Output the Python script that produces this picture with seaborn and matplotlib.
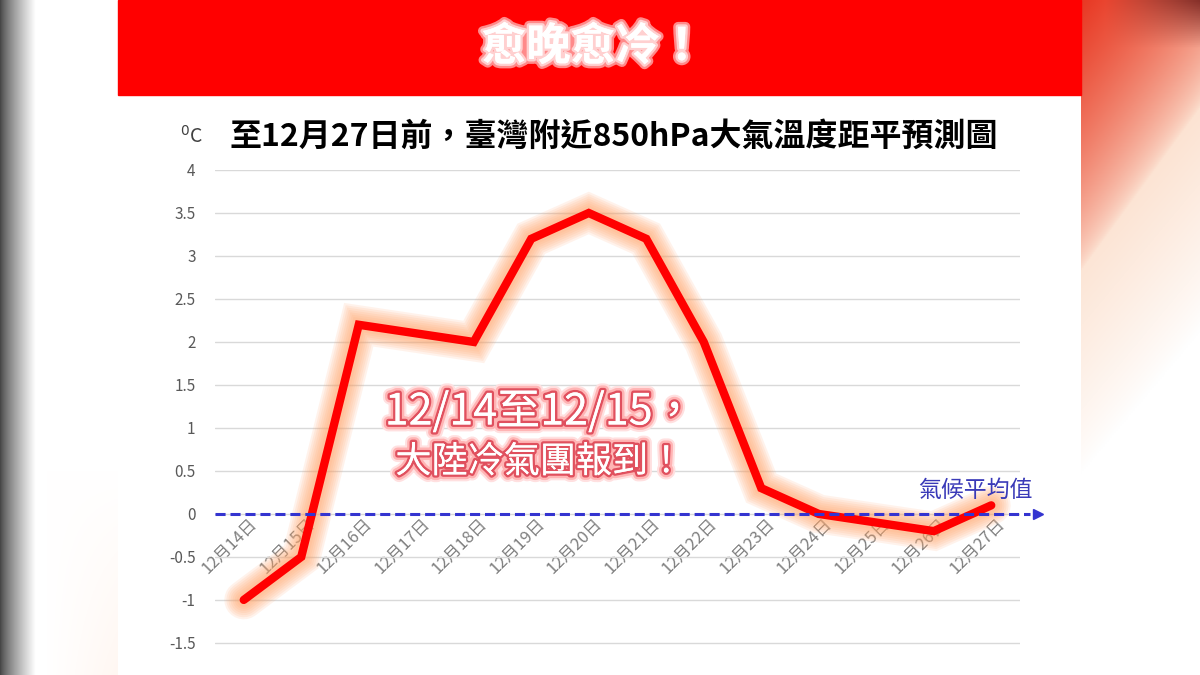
import numpy as np
import pandas as pd
import matplotlib
matplotlib.use("Agg")
import matplotlib.pyplot as plt
import matplotlib.patheffects as pe
import matplotlib.transforms as mtransforms
from matplotlib.patches import Rectangle
import seaborn as sns

# ============ DATA ============
DATES = ["12月14日", "12月15日", "12月16日", "12月17日", "12月18日", "12月19日", "12月20日",
         "12月21日", "12月22日", "12月23日", "12月24日", "12月25日", "12月26日", "12月27日"]
ANOMALY = [-1.0, -0.5, 2.2, 2.1, 2.0, 3.2, 3.5, 3.2, 2.0, 0.3, 0.0, -0.1, -0.2, 0.1]
CLIMATE_MEAN = 0.0
Y_TICKS = [-1.5, -1, -0.5, 0, 0.5, 1, 1.5, 2, 2.5, 3, 3.5, 4]

BANNER = "愈晚愈冷！"
TITLE = "至12月27日前，臺灣附近850hPa大氣溫度距平預測圖"
UNIT = "$^{0}$C"
MEAN_LABEL = "氣候平均值"
NOTE_1 = "12/14至12/15，"
NOTE_2 = "大陸冷氣團報到！"
# ==============================

sns.set_theme(style="whitegrid")
plt.rcParams["font.family"] = ["Noto Sans CJK TC", "DejaVu Sans"]

W, H = 1200, 675
fig = plt.figure(figsize=(W / 100, H / 100), dpi=100)
fig.patch.set_facecolor("white")

# --- blurred side strips (photo background) ---
axl = fig.add_axes([0, 0, 118 / W, 1])
u = np.linspace(0, 1, 120)
g = np.clip(u / 0.30, 0, 1) ** 0.8
left = np.ones((200, 120, 3)) * (0.28 + 0.72 * g)[None, :, None]
lu, lv = np.meshgrid(np.linspace(0, 1, 120), np.linspace(0, 1, 200))
w_pe = np.clip((lu - 0.4) / 0.6, 0, 1) * np.clip((lv - 0.7) / 0.3, 0, 1) * 0.2
left = left * (1 - w_pe[..., None]) + np.array([1.0, 0.85, 0.75]) * w_pe[..., None]
axl.imshow(left, aspect="auto", extent=[0, 1, 0, 1])
axl.axis("off")

axr = fig.add_axes([1081 / W, 0, 119 / W, 1])
uu, vv = np.meshgrid(np.linspace(0, 1, 120), np.linspace(0, 1, 300))
red = np.array([0.91, 0.22, 0.14])
peach = np.array([0.98, 0.80, 0.68])
w_red = np.clip(1 - vv / 0.40 - uu * 0.6, 0, 1) ** 0.7
w_peach = np.clip(1 - vv / 0.70 - uu * 0.3, 0, 1) ** 0.8
img = np.ones((300, 120, 3))
img = img * (1 - w_peach[..., None]) + peach * w_peach[..., None]
img = img * (1 - w_red[..., None]) + red * w_red[..., None]
dark = np.clip(1 - vv / 0.07, 0, 1) * np.clip((uu - 0.2) / 0.8, 0, 1)
img = img * (1 - 0.7 * dark[..., None]) + np.array([0.35, 0.05, 0.05]) * 0.7 * dark[..., None]
axr.imshow(img, aspect="auto", extent=[0, 1, 0, 1])
axr.axis("off")

# --- red banner ---
fig.patches.append(Rectangle((118 / W, 1 - 95 / H), (1081 - 118) / W, 95 / H,
                             transform=fig.transFigure, color="#ff0000", zorder=0))
fig.text(593 / W, 1 - 47 / H, BANNER, color="white", fontsize=32, fontweight="bold",
         ha="center", va="center",
         path_effects=[pe.withStroke(linewidth=7, foreground="#ff8a8a"),
                       pe.withStroke(linewidth=3.5, foreground="#ffd0d0"), pe.Normal()])

# --- title and unit ---
fig.text(614 / W, 1 - 137 / H, TITLE, color="black", fontsize=23, fontweight="bold",
         ha="center", va="center")
fig.text(192 / W, 1 - 137 / H, UNIT, color="#404040", fontsize=14, ha="center", va="center")

# --- main chart ---
df = pd.DataFrame({"date": DATES, "anomaly": ANOMALY})
ax = fig.add_axes([215 / W, 0, 805 / W, (H - 170) / H])
ax.set_facecolor("none")

# soft orange glow around the line
glow = [pe.Stroke(linewidth=lw, foreground="#ffa266", alpha=0.13)
        for lw in (28, 25, 22, 19, 16, 13, 10)]
glow.append(pe.Normal())
sns.lineplot(data=df, x="date", y="anomaly", sort=False, ax=ax, color="#ff0000",
             linewidth=6, zorder=5, path_effects=glow)
ax.lines[-1].set_solid_joinstyle("miter")

# climate mean reference: dashed line with arrow head
ax.axhline(CLIMATE_MEAN, xmin=0, xmax=1.012, color="#3434d0", linewidth=2.2,
           dashes=(3.3, 1.6), clip_on=False, zorder=6)
ax.plot([1.022], [CLIMATE_MEAN], marker=">", markersize=7, color="#3434d0",
        transform=ax.get_yaxis_transform(), clip_on=False, zorder=6)
ax.text(1.015, CLIMATE_MEAN + 0.27, MEAN_LABEL, transform=ax.get_yaxis_transform(),
        ha="right", va="center", color="#3a3ab8", fontsize=16.5, zorder=7)

# annotation
note_fx = [pe.withStroke(linewidth=10, foreground="#ffe0e0"),
           pe.withStroke(linewidth=7, foreground="#ffb4b4"),
           pe.withStroke(linewidth=3.5, foreground="#e0505e"), pe.Normal()]
ax.text(5.15, 1.18, NOTE_1, ha="center", va="center", color="white", fontsize=31,
        zorder=8, path_effects=note_fx)
ax.text(5.15, 0.6, NOTE_2, ha="center", va="center", color="white", fontsize=26,
        zorder=8, path_effects=note_fx)

# axes styling
ax.set_xlim(-0.5, len(DATES) - 0.5)
ax.set_ylim(-1.5 - 32 / 85.75, 4)
ax.set_yticks(Y_TICKS)
ax.set_yticklabels([f"{v:g}" for v in Y_TICKS])
ax.set_xlabel("")
ax.set_ylabel("")
ax.grid(axis="x", visible=False)
ax.grid(axis="y", color="#d9d9d9", linewidth=1)
for side in ["left", "right", "top"]:
    ax.spines[side].set_visible(False)
ax.spines["bottom"].set_position(("data", 0))
ax.spines["bottom"].set_color("none")
ax.tick_params(axis="y", length=0, pad=14, labelsize=11, labelcolor="#595959")
ax.tick_params(axis="x", length=0, pad=5, labelsize=12, labelcolor="#7f7f7f")
offset = mtransforms.ScaledTranslation(11 / 100, 0, fig.dpi_scale_trans)
for lab in ax.get_xticklabels():
    lab.set_rotation(45)
    lab.set_ha("right")
    lab.set_va("center")
    lab.set_rotation_mode("anchor")
    lab.set_transform(lab.get_transform() + offset)

fig.savefig("out.png", dpi=100)
